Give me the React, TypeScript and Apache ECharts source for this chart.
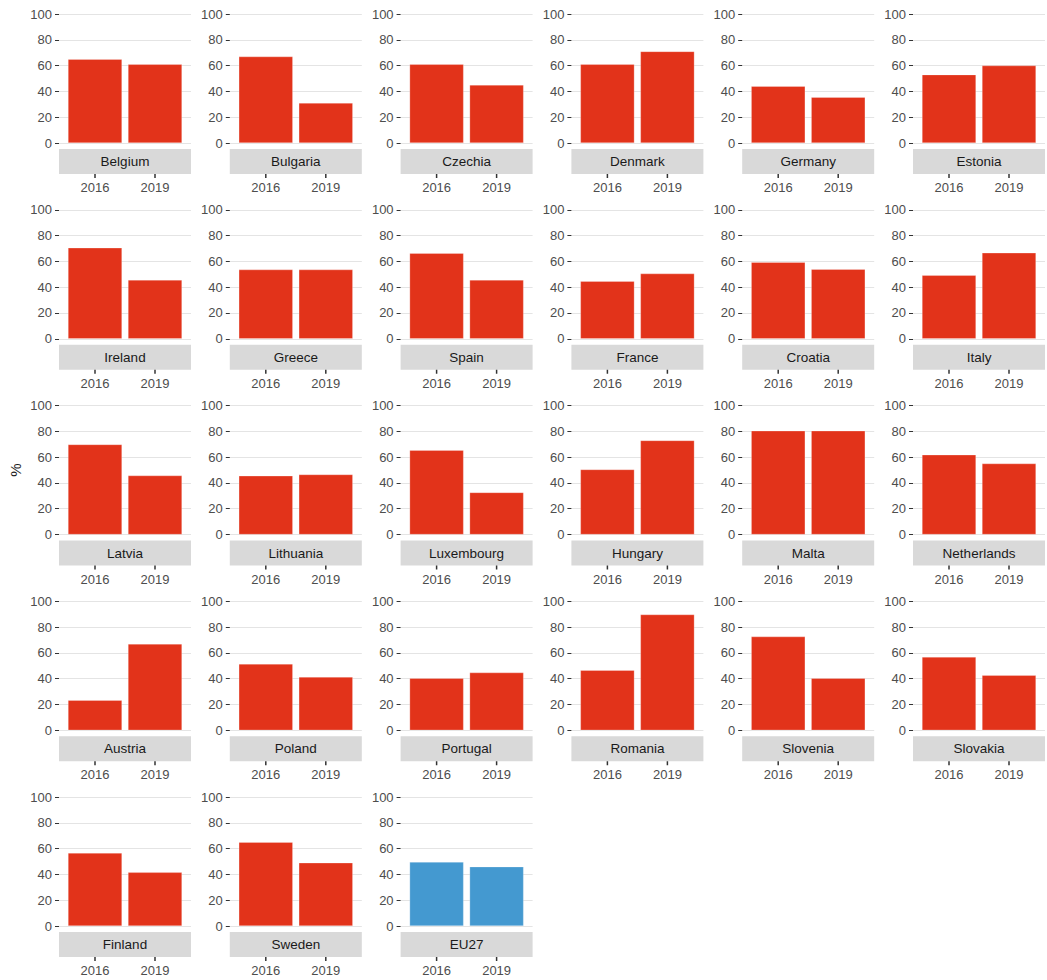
import React, { useEffect, useRef } from "react";
import * as echarts from "echarts";

const countries = [
  "Belgium", "Bulgaria", "Czechia", "Denmark", "Germany", "Estonia",
  "Ireland", "Greece", "Spain", "France", "Croatia", "Italy",
  "Latvia", "Lithuania", "Luxembourg", "Hungary", "Malta", "Netherlands",
  "Austria", "Poland", "Portugal", "Romania", "Slovenia", "Slovakia",
  "Finland", "Sweden", "EU27",
];
const values2016 = [
  65, 67, 61, 61, 44, 53,
  70.5, 53.6, 66.3, 44.6, 59.3, 49.2,
  69.8, 45.5, 65.4, 50.4, 80.4, 61.8,
  23.3, 51.4, 40.3, 46.5, 72.6, 56.8,
  56.6, 65, 49.6,
];
const values2019 = [
  61, 31, 45, 71, 35.5, 60,
  45.6, 53.6, 45.6, 50.5, 53.9, 66.6,
  45.7, 46.5, 32.6, 72.9, 80.4, 55,
  66.9, 41.3, 44.7, 89.7, 40.3, 42.6,
  41.6, 49, 46,
];
const years = ["2016", "2019"];
const yearPositions = [1, 2];
const yTicks = [0, 20, 40, 60, 80, 100];

const RED = "#E2331A";
const BLUE = "#4499D0";
const FONT = "Liberation Sans, Arial, Helvetica, sans-serif";

// layout
const COLS = 6;
const LEFT0 = 59;
const COL_STEP = 170.8;
const TOP0 = 14;
const ROW_STEP = 195.75;
const PW = 132;
const PH = 129;
const STRIP_GAP = 6;
const STRIP_H = 25;
const TICK_LEN = 4;

export default function App() {
  const ref = useRef<HTMLDivElement>(null);

  useEffect(() => {
    document.body.style.margin = "0";
    if (!ref.current) return;
    const chart = echarts.init(ref.current, null, { renderer: "svg" });

    const grids: any[] = [];
    const xAxes: any[] = [];
    const yAxes: any[] = [];
    const series: any[] = [];
    const graphics: any[] = [];

    countries.forEach((name, i) => {
      const r = Math.floor(i / COLS);
      const c = i % COLS;
      const left = LEFT0 + c * COL_STEP;
      const top = TOP0 + r * ROW_STEP;
      grids.push({ left, top, width: PW, height: PH, containLabel: false });
      xAxes.push({
        type: "value",
        gridIndex: i,
        min: 0.4,
        max: 2.6,
        offset: STRIP_GAP + STRIP_H,
        axisLine: { show: false },
        splitLine: { show: false },
        axisTick: { show: false },
        axisLabel: {
          customValues: yearPositions,
          formatter: (v: number) => years[Math.round(v) - 1] ?? "",
          color: "#4D4D4D",
          fontSize: 13,
          fontFamily: FONT,
          margin: 7,
        },
      });
      yAxes.push({
        type: "value",
        gridIndex: i,
        min: yTicks[0],
        max: yTicks[yTicks.length - 1],
        interval: 20,
        axisLine: { show: false },
        axisTick: {
          show: true,
          length: 4,
          lineStyle: { color: "#333333", width: 1 },
        },
        axisLabel: {
          color: "#4D4D4D",
          fontSize: 13,
          fontFamily: FONT,
          margin: 7,
        },
        splitLine: { lineStyle: { color: "#E4E4E4", width: 1 } },
      });
      const color = name === "EU27" ? BLUE : RED;
      series.push({
        type: "bar",
        xAxisIndex: i,
        yAxisIndex: i,
        barWidth: 54,
        itemStyle: {
          color,
          borderColor: "rgba(255,255,255,0.5)",
          borderWidth: 0.5,
        },
        data: [
          [yearPositions[0], values2016[i]],
          [yearPositions[1], values2019[i]],
        ],
      });
      // x-axis tick marks below the strip
      series.push({
        type: "custom",
        xAxisIndex: i,
        yAxisIndex: i,
        silent: true,
        clip: false,
        z: 10,
        data: yearPositions.map((p) => [p, yTicks[0]]),
        renderItem: (params: any, api: any) => {
          const pt = api.coord([api.value(0), api.value(1)]);
          const y0 = pt[1] + STRIP_GAP + STRIP_H;
          return {
            type: "rect",
            shape: { x: pt[0] - 0.75, y: y0, width: 1.5, height: TICK_LEN },
            style: { fill: "#333333" },
          };
        },
      });
      graphics.push({
        type: "rect",
        z: -1,
        shape: { x: left, y: top + PH + STRIP_GAP, width: PW, height: STRIP_H },
        style: { fill: "#D9D9D9" },
        silent: true,
      });
      graphics.push({
        type: "text",
        x: left + PW / 2,
        y: top + PH + STRIP_GAP + STRIP_H / 2,
        style: {
          text: name,
          fill: "#1A1A1A",
          fontSize: 13.5,
          fontFamily: FONT,
          align: "center",
          verticalAlign: "middle",
        },
        silent: true,
      });
    });

    graphics.push({
      type: "text",
      x: 15,
      y: 470,
      rotation: Math.PI / 2,
      style: {
        text: "%",
        fill: "#1A1A1A",
        fontSize: 15,
        fontFamily: FONT,
        align: "center",
        verticalAlign: "middle",
      },
      silent: true,
    });

    chart.setOption({
      animation: false,
      backgroundColor: "#FFFFFF",
      grid: grids,
      xAxis: xAxes,
      yAxis: yAxes,
      series,
      graphic: graphics,
    });

    return () => chart.dispose();
  }, []);

  return <div ref={ref} style={{ width: 1047, height: 980 }} />;
}
